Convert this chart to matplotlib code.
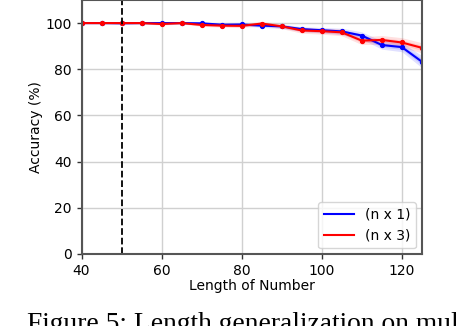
import matplotlib
matplotlib.use("Agg")
import matplotlib.pyplot as plt
from matplotlib.lines import Line2D
import numpy as np

lengths = [40, 45, 50, 55, 60, 65, 70, 75, 80, 85, 90, 95, 100, 105, 110, 115, 120, 125]
acc_n1 = [100, 100, 99.9, 100, 100, 100, 99.9, 99.3, 99.4, 98.9, 98.6, 97.4, 96.9, 96.4, 94.6, 90.5, 89.6, 83.3]
acc_n3 = [100, 100, 100, 100, 99.6, 100, 99.2, 98.9, 98.8, 99.8, 98.6, 96.8, 96.5, 96.0, 92.4, 92.7, 91.6, 89.3]
std_n1 = [0.1, 0.1, 0.2, 0.2, 0.3, 0.3, 0.4, 0.5, 0.6, 0.8, 0.9, 1.0, 1.2, 1.4, 1.6, 1.8, 2.0, 2.6]
std_n3 = [0.1, 0.1, 0.2, 0.3, 0.5, 0.4, 0.6, 0.7, 0.8, 0.9, 1.0, 1.2, 1.3, 1.5, 1.7, 1.9, 2.1, 2.2]
labels = ["(n x 1)", "(n x 3)"]
train_len = 50

fig = plt.figure(figsize=(4.58, 3.26), dpi=100)
ax = fig.add_axes([0.178, 0.221, 0.743, 0.779])

x = np.array(lengths)
for acc, sd, col in [(acc_n1, std_n1, "blue"), (acc_n3, std_n3, "red")]:
    acc = np.array(acc); sd = np.array(sd)
    ax.fill_between(x, acc - sd, acc + sd, color=col, alpha=0.12, lw=0)
    ax.fill_between(x, acc - 0.5 * sd, acc + 0.5 * sd, color=col, alpha=0.12, lw=0)
    ax.plot(x, acc, color=col, lw=1.5, marker="o", markersize=2.8)

ax.axvline(train_len, color="black", ls="--", lw=1.3)
ax.set_xlim(40, 125)
ax.set_ylim(0, 110)
ax.set_xticks([40, 60, 80, 100, 120])
ax.set_yticks([0, 20, 40, 60, 80, 100])
ax.grid(True, color="#d0d0d0", lw=1)
ax.set_axisbelow(True)
for s in ax.spines.values():
    s.set_color("#555555")
    s.set_linewidth(1.5)
ax.tick_params(labelsize=10, length=3.5, width=1, color="#333333")
ax.set_xlabel("Length of Number", fontsize=10, labelpad=1)
ax.set_ylabel("Accuracy (%)", fontsize=10, labelpad=2)
handles = [Line2D([], [], color="blue", lw=1.5), Line2D([], [], color="red", lw=1.5)]
ax.legend(handles, labels, loc="lower right", fontsize=10, handlelength=2.2, borderaxespad=0.4)

fig.text(0.060, 1 - 331 / 326, "Figure 5: Length generalization on mul", fontsize=19.8,
         family="Liberation Serif", ha="left", va="baseline")

fig.savefig("out.png", dpi=100)
